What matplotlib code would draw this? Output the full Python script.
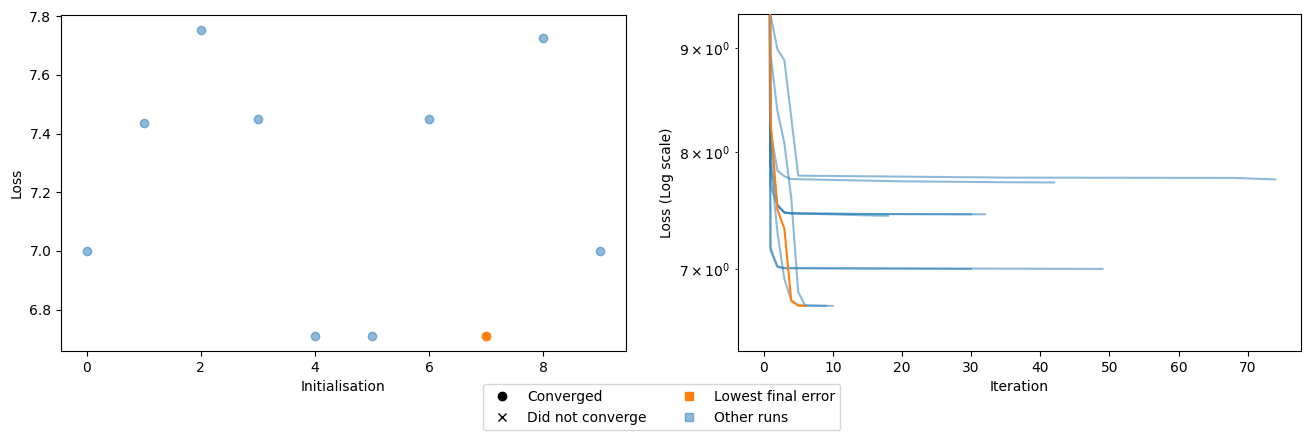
import matplotlib
matplotlib.use("Agg")
import matplotlib.pyplot as plt
from matplotlib.lines import Line2D
import numpy as np

# ---- data: loss curves per initialisation (iteration, loss) ----
run_iters = [
    [0, 1, 2, 3, 15, 30],                 # run 0
    [0, 1, 2, 3, 4, 8, 14, 18],           # run 1
    [0, 1, 2, 3, 4, 5, 35, 68, 74],       # run 2
    [0, 1, 2, 3, 4, 15, 30],              # run 3
    [0, 1, 2, 3, 4, 5, 6, 9],             # run 4
    [0, 1, 2, 3, 4, 5, 10],               # run 5
    [0, 1, 2, 3, 4, 15, 32],              # run 6
    [0, 1, 2, 3, 4, 5, 6],                # run 7
    [0, 1, 2, 3, 4, 20, 35, 42],          # run 8
    [0, 1, 2, 3, 30, 49],                 # run 9
]
run_losses = [
    [60, 7.15, 7.015, 7.005, 7.002, 7.0],
    [70, 7.9, 7.52, 7.465, 7.457, 7.452, 7.442, 7.437],
    [80, 9.35, 8.99, 8.88, 8.32, 7.785, 7.768, 7.765, 7.752],
    [65, 8.1, 7.53, 7.465, 7.458, 7.452, 7.45],
    [90, 8.94, 8.38, 8.08, 7.59, 6.82, 6.715, 6.7112],
    [60, 7.9, 7.3, 6.92, 6.755, 6.715, 6.7112],
    [65, 7.7, 7.53, 7.465, 7.458, 7.452, 7.45],
    [70, 8.3, 7.49, 7.33, 6.75, 6.715, 6.7108],
    [75, 8.2, 7.83, 7.78, 7.755, 7.735, 7.727, 7.725],
    [55, 7.17, 7.02, 7.008, 7.003, 7.0],
]
converged = [True] * 10

final_losses = [l[-1] for l in run_losses]
inits = list(range(len(final_losses)))
best = int(np.argmin(final_losses))

blue = "#1f77b4"
orange = "#ff7f0e"

fig = plt.figure(figsize=(13.11, 4.40), dpi=100)
ax1 = fig.add_axes([61 / 1311, 1 - 351 / 440, 565 / 1311, 336 / 440])
ax2 = fig.add_axes([738 / 1311, 1 - 351 / 440, 563 / 1311, 337 / 440])

for i, (x, y) in enumerate(zip(inits, final_losses)):
    m = "o" if converged[i] else "x"
    if i == best:
        ax1.scatter([x], [y], color=orange, marker=m, zorder=3)
    else:
        ax1.scatter([x], [y], color=blue, alpha=0.5, marker=m)
ax1.set_xlabel("Initialisation")
ax1.set_ylabel("Loss")

for i, (it, ls) in enumerate(zip(run_iters, run_losses)):
    if i == best:
        continue
    ax2.plot(it, ls, color=blue, alpha=0.5, lw=1.5)
ax2.plot(run_iters[best], run_losses[best], color=orange, lw=1.5, zorder=3)
ax2.set_yscale("log")
ax2.set_ylim(6.375, 9.36)
ax2.set_xlim(-3.7, 77.7)
ax2.set_xlabel("Iteration")
ax2.set_ylabel("Loss (Log scale)")

handles = [
    Line2D([], [], color="black", marker="o", linestyle="none", label="Converged"),
    Line2D([], [], color="black", marker="x", linestyle="none", label="Did not converge"),
    Line2D([], [], color=orange, marker="s", linestyle="none", label="Lowest final error"),
    Line2D([], [], color=blue, alpha=0.5, marker="s", linestyle="none", label="Other runs"),
]
fig.legend(handles=handles, loc="upper center", ncol=2,
           bbox_to_anchor=(661.7 / 1311, 1 - 377.3 / 440))

fig.savefig("out.png", dpi=100)
